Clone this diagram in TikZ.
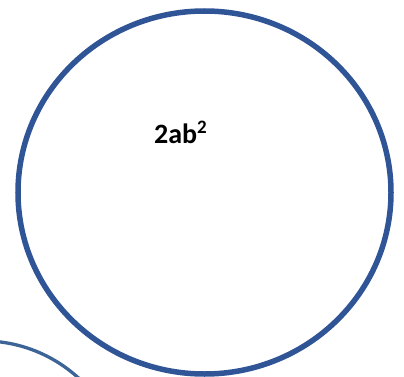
\documentclass[tikz,border=0pt]{standalone}
\usepackage{fontspec}
\newfontfamily\carlito{Carlito}
\definecolor{ringblue}{HTML}{2F5597}
\definecolor{ringblue2}{HTML}{3C6496}
\tikzset{
  bigring/.style={draw=ringblue, line width=5.5pt},
  smallring/.style={draw=ringblue2, line width=3.3pt},
  label/.style={font=\carlito\bfseries\fontsize{28}{31}\selectfont, inner sep=0pt}
}
\begin{document}
\begin{tikzpicture}[x=1pt,y=-1pt]
\useasboundingbox (0,0) rectangle (404,377);
\begin{scope}
\clip (0,0) rectangle (404,377);
\draw[smallring] (-17.2,482.9) circle [radius=142];
\draw[bigring] (204.5,192.5) ellipse [x radius=186.5, y radius=181.5];
\end{scope}
\node[label, anchor=base west] (t) at (154,143) {2ab\raisebox{0.33em}{\fontsize{19}{20}\selectfont 2}};
\end{tikzpicture}
\end{document}
